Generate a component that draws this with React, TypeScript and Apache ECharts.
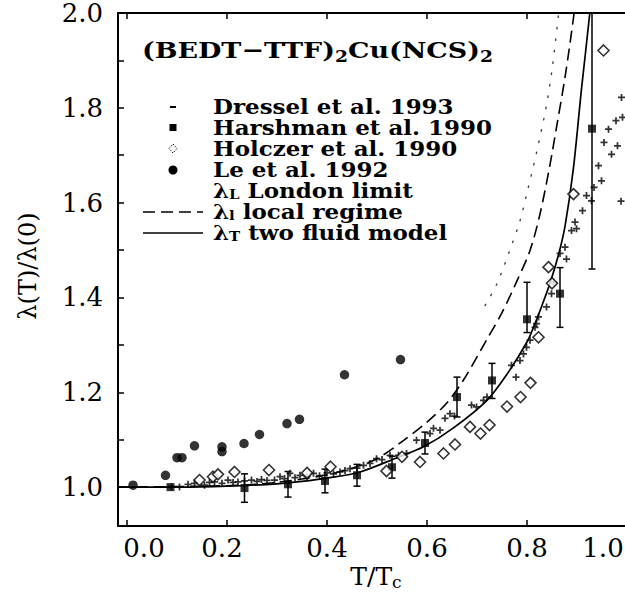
import React, { useEffect, useRef } from 'react';
import * as echarts from 'echarts';

const SERIF = '"DejaVu Serif", "Liberation Serif", serif';

// Axis values
const xRange = [-0.018, 1.0];
const yRange = [0.918, 2.0];
const xTickValues = [0, 0.2, 0.4, 0.6, 0.8, 1.0];
const yLabelValues = [1.0, 1.2, 1.4, 1.6, 1.8, 2.0];
const yTickValues = [1.0, 1.1, 1.2, 1.3, 1.4, 1.5, 1.6, 1.7, 1.8, 1.9, 2.0];

// λT two fluid model (solid)
const twoFluid = [
  [-0.018, 1.0], [0.1, 1.0], [0.2, 1.002], [0.3, 1.007], [0.35, 1.012], [0.4, 1.019],
  [0.466, 1.032], [0.54, 1.062], [0.593, 1.085], [0.653, 1.125], [0.72, 1.183],
  [0.76, 1.238], [0.8, 1.306], [0.813, 1.337], [0.826, 1.372], [0.846, 1.43],
  [0.863, 1.49], [0.876, 1.55], [0.893, 1.674], [0.909, 1.84], [0.926, 2.004], [0.93, 2.06],
];

// λl local regime (dashed)
const localRegime = [
  [-0.018, 1.0], [0.2, 1.003], [0.3, 1.01], [0.4, 1.026], [0.45, 1.04], [0.5, 1.06],
  [0.55, 1.096], [0.6, 1.137], [0.64, 1.178], [0.673, 1.226], [0.72, 1.312],
  [0.75, 1.368], [0.78, 1.435], [0.806, 1.499], [0.826, 1.576], [0.846, 1.68],
  [0.859, 1.759], [0.876, 1.864], [0.893, 1.99], [0.897, 2.03],
];

// λL London limit (dotted)
const londonLimit = [
  [0.716, 1.383], [0.739, 1.427], [0.764, 1.495], [0.786, 1.562], [0.801, 1.625],
  [0.82, 1.71], [0.838, 1.8], [0.85, 1.88], [0.863, 1.997], [0.866, 2.03],
];

// Dressel et al. 1993 (small crosses)
const dressel = [
  [0.089, 1.001], [0.105, 1.0], [0.122, 1.006], [0.135, 1.008], [0.155, 1.004], [0.165, 1.01],
  [0.175, 1.011], [0.19, 1.008], [0.202, 1.015], [0.212, 1.01], [0.222, 1.011], [0.235, 1.013],
  [0.249, 1.015], [0.26, 1.012], [0.269, 1.016], [0.28, 1.014], [0.295, 1.015], [0.306, 1.022],
  [0.315, 1.018], [0.326, 1.029], [0.336, 1.02], [0.346, 1.025], [0.36, 1.022], [0.373, 1.029],
  [0.385, 1.024], [0.4, 1.03], [0.413, 1.028], [0.426, 1.032], [0.436, 1.035], [0.446, 1.039],
  [0.46, 1.04], [0.473, 1.046], [0.486, 1.05], [0.499, 1.06], [0.51, 1.058], [0.526, 1.067],
  [0.543, 1.067], [0.559, 1.071], [0.579, 1.099], [0.606, 1.113], [0.613, 1.124], [0.626, 1.12],
  [0.636, 1.145], [0.646, 1.155], [0.655, 1.15], [0.689, 1.173], [0.699, 1.169], [0.713, 1.183],
  [0.72, 1.19], [0.769, 1.257], [0.778, 1.232], [0.786, 1.267], [0.793, 1.281], [0.799, 1.295],
  [0.806, 1.31], [0.816, 1.337], [0.819, 1.345], [0.823, 1.359], [0.839, 1.38], [0.849, 1.408],
  [0.853, 1.432], [0.866, 1.493], [0.876, 1.506], [0.879, 1.481], [0.889, 1.541], [0.896, 1.559],
  [0.899, 1.545], [0.911, 1.583], [0.919, 1.615], [0.929, 1.604], [0.934, 1.632], [0.943, 1.678],
  [0.949, 1.646], [0.954, 1.727], [0.963, 1.755], [0.969, 1.702], [0.978, 1.773], [0.981, 1.72],
  [0.989, 1.822], [0.991, 1.78], [0.988, 1.603],
];

// Harshman et al. 1990 (filled squares with error bars)
const harshman = [
  [0.087, 1.0], [0.235, 0.998], [0.322, 1.006], [0.396, 1.013], [0.46, 1.025], [0.53, 1.042],
  [0.596, 1.093], [0.66, 1.19], [0.73, 1.225], [0.8, 1.354], [0.866, 1.408], [0.93, 1.756],
];
const harshmanLow = [1.0, 0.968, 0.979, 0.988, 1.002, 1.019, 1.07, 1.148, 1.187, 1.326, 1.337, 1.46];
const harshmanHigh = [1.0, 1.028, 1.033, 1.038, 1.048, 1.065, 1.116, 1.232, 1.261, 1.432, 1.463, 2.0];

// Holczer et al. 1990 (open diamonds)
const holczer = [
  [0.145, 1.015], [0.172, 1.022], [0.182, 1.027], [0.215, 1.032], [0.284, 1.036], [0.36, 1.03],
  [0.407, 1.043], [0.519, 1.034], [0.55, 1.064], [0.586, 1.053], [0.633, 1.071], [0.656, 1.09],
  [0.686, 1.127], [0.707, 1.113], [0.725, 1.131], [0.76, 1.17], [0.787, 1.19], [0.807, 1.22],
  [0.823, 1.316], [0.843, 1.464], [0.85, 1.43], [0.893, 1.618], [0.953, 1.921],
];

// Le et al. 1992 (filled circles)
const le = [
  [0.012, 1.004], [0.077, 1.025], [0.1, 1.062], [0.11, 1.062], [0.135, 1.087], [0.19, 1.085],
  [0.19, 1.075], [0.234, 1.092], [0.265, 1.111], [0.32, 1.134], [0.345, 1.143], [0.435, 1.237],
  [0.547, 1.269],
];

const legendLabels = [
  'Dressel et al. 1993',
  'Harshman et al. 1990',
  'Holczer et al. 1990',
  'Le et al. 1992',
];

const PLUS = 'path://M3,0H5V3H8V5H5V8H3V5H0V3H3Z';

function xLabel(v: number) {
  const s = v.toFixed(1);
  if (Math.abs(v) < 1e-6) return '{a|' + s + '}';
  if (Math.abs(v - 0.2) < 1e-6) return '{c|' + s + '}';
  if (Math.abs(v - 1) < 1e-6) return '{b|' + s + '}';
  return '{n|' + s + '}';
}

function measure(text: string, font: string) {
  const c = document.createElement('canvas').getContext('2d');
  if (!c) return text.length * 12;
  c.font = font;
  return c.measureText(text).width;
}

const labelFont = { fontFamily: SERIF, fontSize: 26, color: '#000' };

function buildOption() {
  const titleW =
    measure('(BEDT−TTF)', 'bold 23px ' + SERIF) + measure('Cu(NCS)', 'bold 23px ' + SERIF) +
    2 * measure('2', 'bold 16px ' + SERIF);
  const titleScale = 351 / titleW;
  const legScale = 279 / measure('Harshman et al. 1990', 'bold 20px ' + SERIF);

  const axisLine = { show: true, onZero: false, lineStyle: { color: '#000', width: 2 } };
  const tickStyle = { color: '#000', width: 1.5 };
  const legendText = (y: number, rich: string) => ({
    type: 'text',
    x: 213,
    y,
    scaleX: legScale,
    style: {
      text: rich,
      verticalAlign: 'middle',
      fill: '#000',
      rich: {
        m: { fontFamily: SERIF, fontWeight: 'bold', fontSize: 20, fill: '#000', lineHeight: 20 },
        s: { fontFamily: SERIF, fontWeight: 'bold', fontSize: 13, fill: '#000', lineHeight: 12, verticalAlign: 'bottom' },
      },
    },
  });
  return {
    animation: false,
    backgroundColor: '#fff',
    grid: { left: 118, top: 12, width: 509, height: 514 },
    xAxis: [
      {
        type: 'value', min: xRange[0], max: xRange[1], position: 'bottom',
        axisLine,
        axisTick: { show: true, inside: true, length: 6, customValues: xTickValues, lineStyle: tickStyle },
        axisLabel: {
          show: true, customValues: xTickValues, margin: 9, formatter: xLabel,
          ...labelFont,
          rich: {
            n: { ...labelFont },
            a: { ...labelFont, padding: [0, 0, 0, 34] },
            c: { ...labelFont, padding: [0, 10, 0, 0] },
            b: { ...labelFont, padding: [0, 48, 0, 0] },
          },
        },
        splitLine: { show: false },
      },
      {
        type: 'value', min: xRange[0], max: xRange[1], position: 'top',
        axisLine,
        axisTick: { show: true, inside: true, length: 6, customValues: xTickValues, lineStyle: tickStyle },
        axisLabel: { show: false },
        splitLine: { show: false },
      },
    ],
    yAxis: [
      {
        type: 'value', min: yRange[0], max: yRange[1], position: 'left',
        axisLine,
        axisTick: { show: true, inside: true, length: 6, customValues: yTickValues, lineStyle: tickStyle },
        axisLabel: {
          show: true, customValues: yLabelValues, margin: 15, lineHeight: 22,
          formatter: (v: number) => v.toFixed(1),
          ...labelFont,
        },
        splitLine: { show: false },
      },
      {
        type: 'value', min: yRange[0], max: yRange[1], position: 'right',
        axisLine,
        axisTick: { show: false },
        axisLabel: { show: false },
        splitLine: { show: false },
      },
    ],
    series: [
      {
        name: 'λL London limit', type: 'line', data: londonLimit, symbol: 'none', clip: true,
        smooth: 0.3,
        lineStyle: { color: '#444', width: 1.4, type: [1.5, 10], cap: 'round' }, z: 2,
      },
      {
        name: 'λl local regime', type: 'line', data: localRegime, symbol: 'none', clip: true,
        smooth: 0.3,
        lineStyle: { color: '#000', width: 1.6, type: [12, 6] }, z: 2,
      },
      {
        name: 'λT two fluid model', type: 'line', data: twoFluid, symbol: 'none', clip: true,
        smooth: 0.3,
        lineStyle: { color: '#000', width: 1.7 }, z: 2,
      },
      {
        name: legendLabels[0], type: 'scatter', data: dressel, symbol: PLUS, symbolSize: 7,
        itemStyle: { color: '#000' }, z: 3,
      },
      {
        name: 'Harshman error', type: 'custom', clip: true, z: 4,
        data: harshman
          .map((p, i) => [p[0], harshmanLow[i], harshmanHigh[i]])
          .filter((d) => d[1] !== d[2]),
        encode: { x: 0, y: [1, 2] },
        renderItem: (_params: any, api: any) => {
          const x = api.value(0);
          const a = api.coord([x, api.value(1)]);
          const b = api.coord([x, api.value(2)]);
          const style = { stroke: '#000', lineWidth: 1.5 };
          return {
            type: 'group',
            children: [
              { type: 'line', shape: { x1: a[0], y1: a[1], x2: b[0], y2: b[1] }, style },
              { type: 'line', shape: { x1: a[0] - 3.5, y1: a[1], x2: a[0] + 3.5, y2: a[1] }, style },
              { type: 'line', shape: { x1: b[0] - 3.5, y1: b[1], x2: b[0] + 3.5, y2: b[1] }, style },
            ],
          };
        },
      },
      {
        name: legendLabels[1], type: 'scatter', data: harshman, symbol: 'rect', symbolSize: 8,
        itemStyle: { color: '#000' }, z: 5,
      },
      {
        name: legendLabels[2], type: 'scatter', data: holczer, symbol: 'diamond', symbolSize: [11, 11],
        itemStyle: { color: '#fff', borderColor: '#000', borderWidth: 1.6 }, z: 5,
      },
      {
        name: legendLabels[3], type: 'scatter', data: le, symbol: 'circle', symbolSize: 9.5,
        itemStyle: { color: '#000' }, z: 5,
      },
    ],
    graphic: [
      {
        type: 'text', x: 142, y: 50, scaleX: titleScale,
        style: {
          text: '{m|(BEDT−TTF)}{s|2}{m|Cu(NCS)}{s|2}',
          verticalAlign: 'middle',
          fill: '#000',
          rich: {
            m: { fontFamily: SERIF, fontWeight: 'bold', fontSize: 23, fill: '#000', lineHeight: 28 },
            s: { fontFamily: SERIF, fontWeight: 'bold', fontSize: 16, fill: '#000', lineHeight: 18, verticalAlign: 'bottom' },
          },
        },
      },
      legendText(107, '{m|' + legendLabels[0] + '}'),
      legendText(128, '{m|' + legendLabels[1] + '}'),
      legendText(149, '{m|' + legendLabels[2] + '}'),
      legendText(170, '{m|' + legendLabels[3] + '}'),
      legendText(191, '{m|λ}{s|L}{m| London limit}'),
      legendText(212, '{m|λ}{s|l}{m| local regime}'),
      legendText(233, '{m|λ}{s|T}{m| two fluid model}'),
      { type: 'line', shape: { x1: 170, y1: 107, x2: 176, y2: 107 }, style: { stroke: '#000', lineWidth: 2 } },
      { type: 'rect', shape: { x: 169.5, y: 124, width: 7, height: 7 }, style: { fill: '#000' } },
      {
        type: 'polygon', shape: { points: [[173, 144], [177, 148.5], [173, 153], [169, 148.5]] },
        style: { fill: 'none', stroke: '#000', lineWidth: 1, lineDash: [1.5, 1.5] },
      },
      { type: 'circle', shape: { cx: 173, cy: 170, r: 4.5 }, style: { fill: '#000' } },
      { type: 'line', shape: { x1: 143, y1: 212, x2: 203, y2: 212 }, style: { stroke: '#000', lineWidth: 1.5, lineDash: [12, 6] } },
      { type: 'line', shape: { x1: 143, y1: 233, x2: 203, y2: 233 }, style: { stroke: '#000', lineWidth: 1.5 } },
      {
        type: 'text', x: 28, y: 266, rotation: Math.PI / 2,
        style: {
          text: 'λ(T)/λ(0)', align: 'center', verticalAlign: 'middle',
          font: '24px ' + SERIF, fill: '#000',
        },
      },
      {
        type: 'text', x: 376, y: 576,
        style: {
          text: '{m|T/T}{s|c}', align: 'center', verticalAlign: 'middle', fill: '#000',
          rich: {
            m: { fontFamily: SERIF, fontSize: 25, fill: '#000', lineHeight: 28 },
            s: { fontFamily: SERIF, fontSize: 17, fill: '#000', lineHeight: 18, verticalAlign: 'bottom' },
          },
        },
      },
    ],
  };
}

export default function App() {
  const ref = useRef<HTMLDivElement>(null);
  useEffect(() => {
    if (!ref.current) return;
    const chart = echarts.init(ref.current, null, { renderer: 'svg', width: 640, height: 596 });
    chart.setOption(buildOption() as any);
    return () => chart.dispose();
  }, []);
  return (
    <div style={{ position: 'fixed', left: 0, top: 0, width: 625, height: 596, overflow: 'hidden', background: '#fff' }}>
      <div ref={ref} style={{ width: 640, height: 596 }} />
    </div>
  );
}
